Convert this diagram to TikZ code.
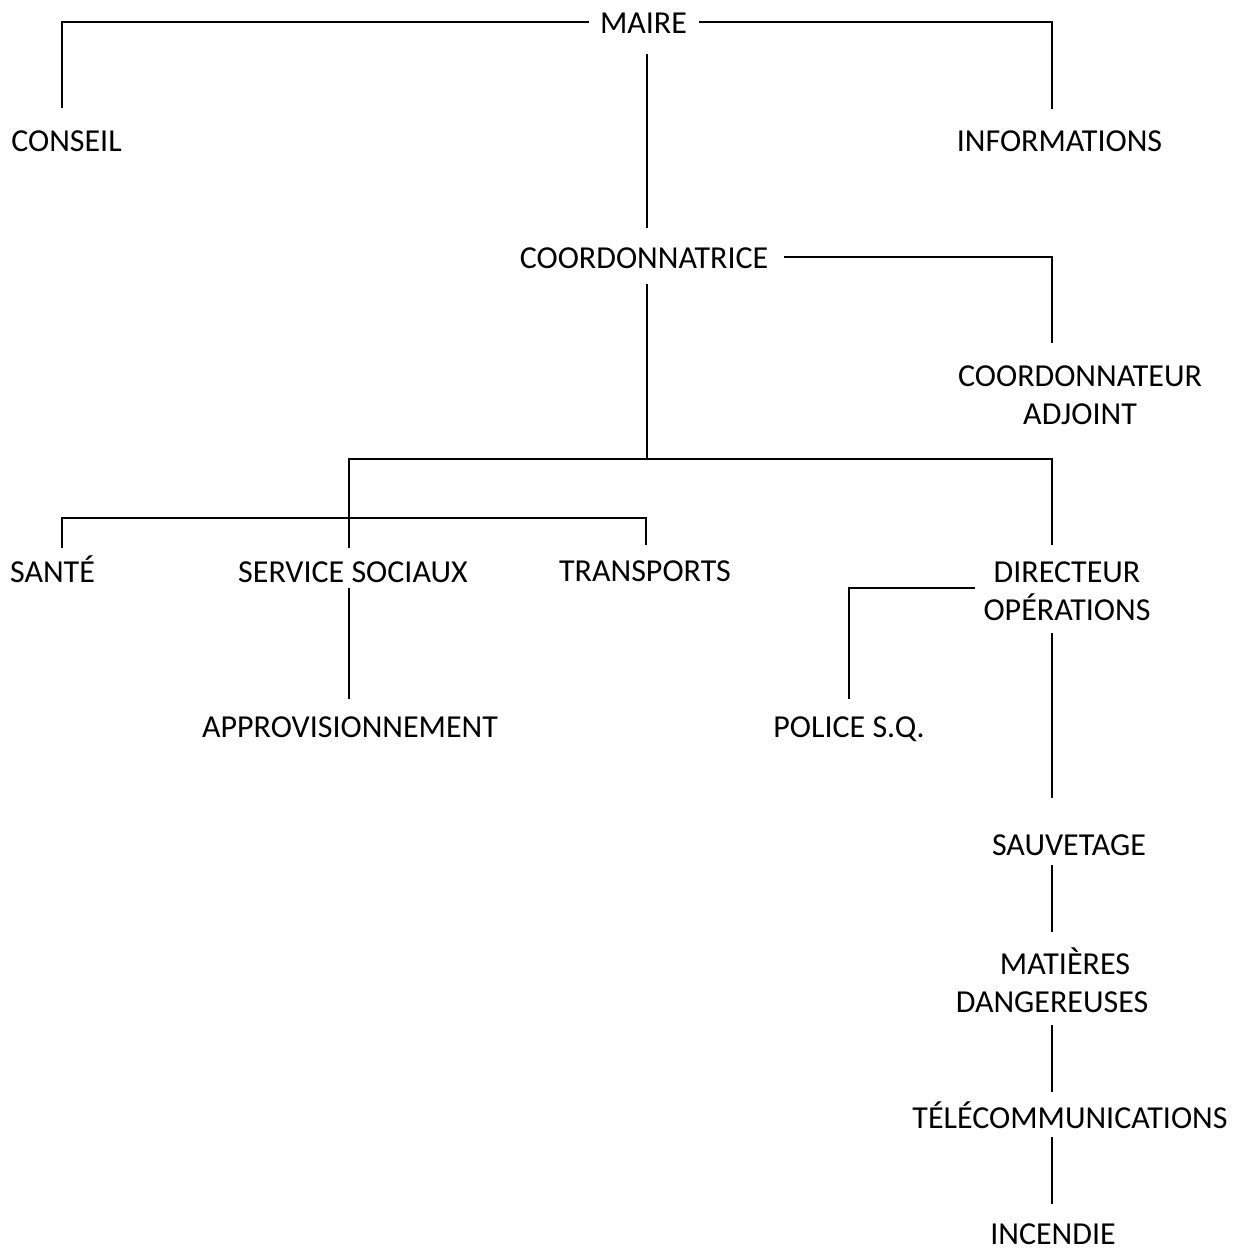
\documentclass[tikz,border=0pt]{standalone}
\usepackage{fontspec}
\setmainfont{Carlito}
\begin{document}
\begin{tikzpicture}[x=1pt,y=-1pt,
  lbl/.style={inner sep=0pt, anchor=base, font=\fontsize{32}{38}\selectfont, align=center},
  conn/.style={line width=1.5pt, line join=miter}]
\useasboundingbox[fill=white] (0,0) rectangle (1234,1249);
% labels (multi-line labels are placed by the baseline of their last line)
\node[lbl] (maire) at (643.5,34) {MAIRE};
\node[lbl] (conseil) at (66.5,152) {CONSEIL};
\node[lbl] (info) at (1059.5,152) {INFORMATIONS};
\node[lbl] (coordrice) at (644,269) {COORDONNATRICE};
\node[lbl] (adjoint) at (1080,424) {COORDONNATEUR\\ADJOINT};
\node[lbl] (sante) at (52.5,582) {SANTÉ};
\node[lbl] (sociaux) at (353,582) {SERVICE SOCIAUX};
\node[lbl] (transports) at (645,581) {TRANSPORTS};
\node[lbl] (directeur) at (1067,620) {DIRECTEUR\\OPÉRATIONS};
\node[lbl] (appro) at (350,737) {APPROVISIONNEMENT};
\node[lbl] (police) at (849,737) {POLICE S.Q.};
\node[lbl] (sauvetage) at (1069,855) {SAUVETAGE};
\node[lbl] (matieres) at (1052,1012) {\hspace*{26pt}MATIÈRES\\DANGEREUSES};
\node[lbl] (telecom) at (1070,1128) {TÉLÉCOMMUNICATIONS};
\node[lbl] (incendie) at (1053,1244) {INCENDIE};
% connector points
\coordinate (mL) at (589,22);
\coordinate (mR) at (699,22);
\coordinate (mD) at (647,54);
\coordinate (cU) at (62,108);
\coordinate (iU) at (1052,109);
\coordinate (crU) at (647,228);
\coordinate (crR) at (784,257);
\coordinate (adU) at (1052,343);
\coordinate (crD) at (647,284);
\coordinate (br) at (647,459);
\coordinate (brL) at (349,459);
\coordinate (dirU) at (1052,545);
\coordinate (ssU) at (349,548);
\coordinate (barL) at (62,518);
\coordinate (barR) at (646,518);
\coordinate (santeU) at (62,548);
\coordinate (trU) at (646,545);
\coordinate (ssD) at (349,588);
\coordinate (apU) at (349,699);
\coordinate (dirL) at (975,588);
\coordinate (poU) at (849,699);
\coordinate (dirD) at (1052,633);
\coordinate (sauU) at (1052,798);
\coordinate (sauD) at (1052,865);
\coordinate (matU) at (1052,932);
\coordinate (matD) at (1052,1025);
\coordinate (telU) at (1052,1092);
\coordinate (telD) at (1052,1137);
\coordinate (incU) at (1052,1204);
% connectors
\draw[conn] (cU) |- (mL);
\draw[conn] (mR) -| (iU);
\draw[conn] (mD) -- (crU);
\draw[conn] (crR) -| (adU);
\draw[conn] (crD) -- (br);
\draw[conn] (ssU) -- (brL) -| (dirU);
\draw[conn] (santeU) -- (barL) -- (barR) -- (trU);
\draw[conn] (ssD) -- (apU);
\draw[conn] (dirL) -| (poU);
\draw[conn] (dirD) -- (sauU);
\draw[conn] (sauD) -- (matU);
\draw[conn] (matD) -- (telU);
\draw[conn] (telD) -- (incU);
\end{tikzpicture}
\end{document}
